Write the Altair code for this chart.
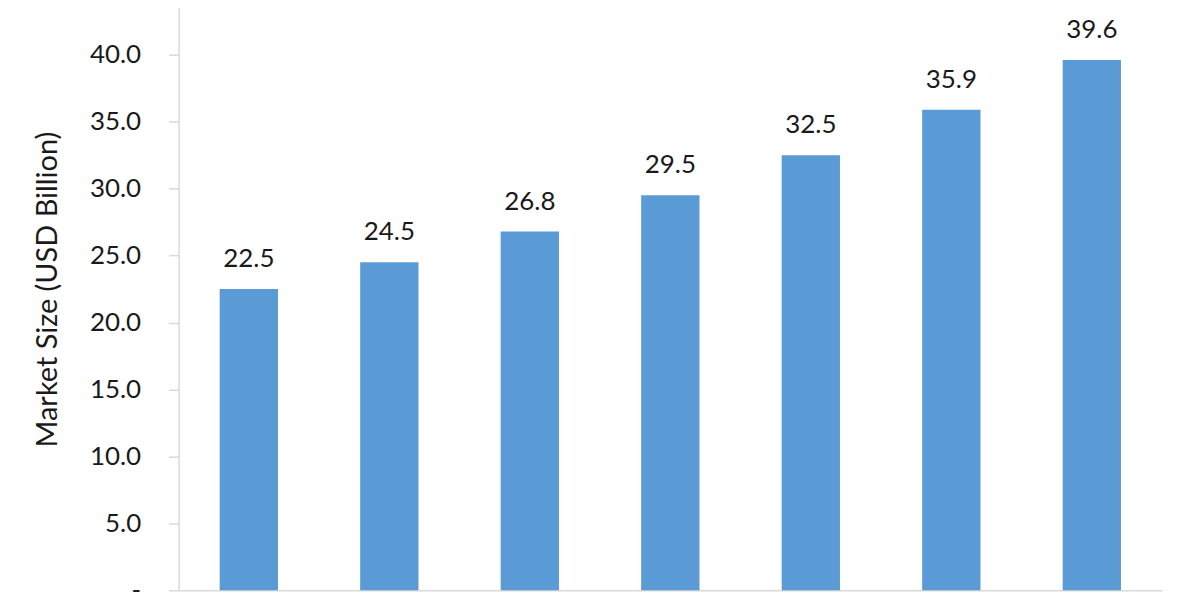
import altair as alt
import pandas as pd

years = ["2018", "2019", "2020", "2021", "2022", "2023", "2024"]
values = [22.5, 24.5, 26.8, 29.5, 32.5, 35.9, 39.6]

df = pd.DataFrame({"year": years, "value": values})

FONT = "Lato"

base = alt.Chart(df).encode(
    x=alt.X(
        "year:N",
        sort=years,
        scale=alt.Scale(paddingInner=0.585, paddingOuter=0.2925),
        axis=alt.Axis(
            title=None,
            labels=False,
            ticks=False,
            domainColor="#D9D9D9",
            domainWidth=1.5,
        ),
    ),
    y=alt.Y(
        "value:Q",
        scale=alt.Scale(domain=[0, 45], nice=False, zero=True),
        axis=alt.Axis(
            title="Market Size (USD Billion)",
            titleFont=FONT,
            titleFontSize=29,
            titleFontWeight="normal",
            titleColor="#1a1a1a",
            titlePadding=27,
            values=[0, 5, 10, 15, 20, 25, 30, 35, 40, 45],
            labelExpr="datum.value == 0 ? '-\u00a0\u00a0\u00a0' : format(datum.value, '.1f')",
            labelFont=FONT,
            labelFontSize=26,
            labelColor="#1a1a1a",
            labelPadding=28,
            tickColor="#D9D9D9",
            tickSize=10,
            tickWidth=1.5,
            domainColor="#D9D9D9",
            domainWidth=1.5,
            grid=False,
        ),
    ),
)

bars = base.mark_bar(color="#5B9BD5")
labels = base.mark_text(
    font=FONT, fontSize=26, color="#1a1a1a", baseline="alphabetic", dy=-22
).encode(text=alt.Text("value:Q", format=".1f"))

chart = (
    (bars + labels)
    .properties(
        width=986,
        height=604,
        autosize=alt.AutoSizeParams(type="none"),
        padding={"left": 171, "top": -21, "right": 30, "bottom": 30},
    )
    .configure_view(stroke=None)
)

chart.save("out.html", embed_options={"renderer": "svg", "actions": False})
